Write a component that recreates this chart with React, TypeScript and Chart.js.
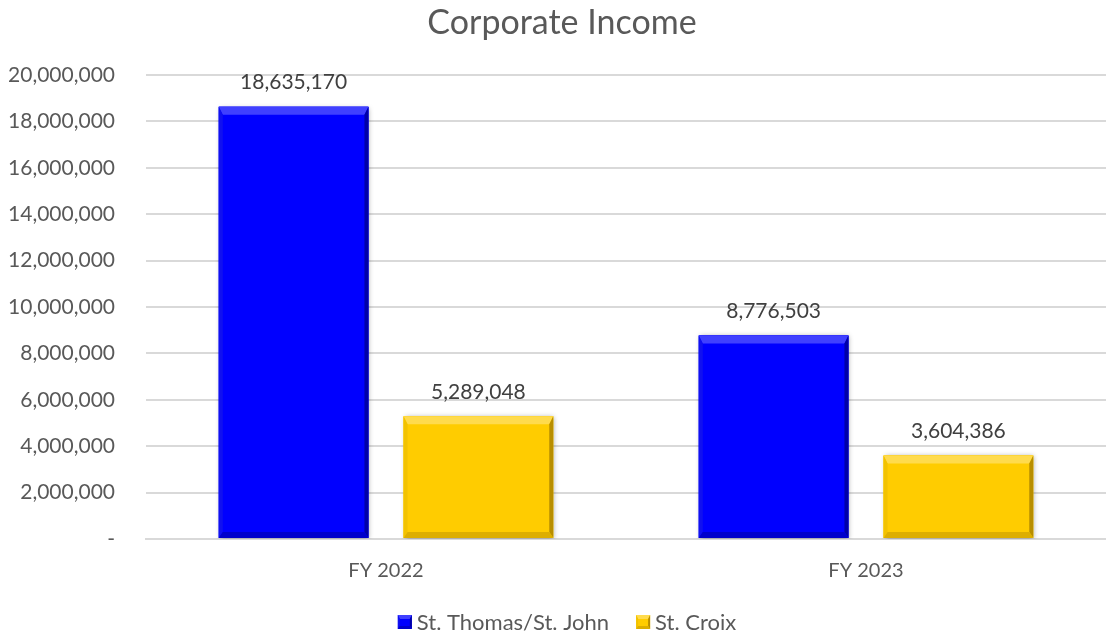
import React, { useEffect, useRef } from "react";
import { Chart, registerables } from "chart.js";

Chart.register(...registerables);

const categories = ["FY 2022", "FY 2023"];
const seriesNames = ["St. Thomas/St. John", "St. Croix"];
const stThomasValues = [18635170, 8776503];
const stCroixValues = [5289048, 3604386];
const yTicks = [0, 2000000, 4000000, 6000000, 8000000, 10000000, 12000000, 14000000, 16000000, 18000000, 20000000];
const chartTitle = "Corporate Income";

const FONT = "Lato, 'Open Sans', sans-serif";
const TEXT = "#595959";

type Pal = { face: string; top: string; left: string; right: string; bottom: string };
const BLUE: Pal = { face: "#0000FF", top: "#4040FF", left: "#1010F0", right: "#0000A8", bottom: "#0000CC" };
const GOLD: Pal = { face: "#FFCC00", top: "#FFDB4D", left: "#F2C200", right: "#B88E00", bottom: "#DDAE00" };
const PALS = [BLUE, GOLD];

function drawBevel(ctx: CanvasRenderingContext2D, l: number, t: number, r: number, b: number, p: Pal, bt: number, bs: number, bb: number) {
  ctx.fillStyle = p.face;
  ctx.fillRect(l, t, r - l, b - t);
  ctx.fillStyle = p.top;
  ctx.beginPath();
  ctx.moveTo(l, t); ctx.lineTo(r, t); ctx.lineTo(r - bs, t + bt); ctx.lineTo(l + bs, t + bt); ctx.closePath(); ctx.fill();
  ctx.fillStyle = p.left;
  ctx.beginPath();
  ctx.moveTo(l, t); ctx.lineTo(l + bs, t + bt); ctx.lineTo(l + bs, b - bb); ctx.lineTo(l, b); ctx.closePath(); ctx.fill();
  ctx.fillStyle = p.right;
  ctx.beginPath();
  ctx.moveTo(r, t); ctx.lineTo(r - bs, t + bt); ctx.lineTo(r - bs, b - bb); ctx.lineTo(r, b); ctx.closePath(); ctx.fill();
  ctx.fillStyle = p.bottom;
  ctx.beginPath();
  ctx.moveTo(l, b); ctx.lineTo(r, b); ctx.lineTo(r - bs, b - bb); ctx.lineTo(l + bs, b - bb); ctx.closePath(); ctx.fill();
}

const bevelPlugin = {
  id: "bevelBars",
  beforeDatasetsDraw(chart: any) {
    const ctx = chart.ctx;
    ctx.save();
    ctx.shadowColor = "rgba(0,0,0,0.35)";
    ctx.shadowBlur = 5;
    ctx.shadowOffsetX = 1;
    ctx.shadowOffsetY = 1;
  },
  afterDatasetsDraw(chart: any) {
    const ctx = chart.ctx;
    ctx.restore();
    chart.data.datasets.forEach((ds: any, i: number) => {
      const meta = chart.getDatasetMeta(i);
      meta.data.forEach((bar: any, j: number) => {
        const w = bar.width;
        const l = bar.x - w / 2, r = bar.x + w / 2;
        const t = bar.y, b = bar.base;
        drawBevel(ctx, l, t, r, b, PALS[i], 8, 4, 6);
        ctx.save();
        ctx.fillStyle = "#404040";
        ctx.font = `21px ${FONT}`;
        ctx.textAlign = "center";
        ctx.textBaseline = "middle";
        ctx.fillText((ds.data[j] as number).toLocaleString("en-US"), bar.x, t - 24);
        ctx.restore();
      });
    });
  },
};

const titleLegendPlugin = {
  id: "titleLegend",
  afterDraw(chart: any) {
    const ctx = chart.ctx;
    ctx.save();
    // title
    ctx.font = `34px ${FONT}`;
    ctx.fillStyle = TEXT;
    ctx.textAlign = "center";
    ctx.textBaseline = "middle";
    ctx.fillText(chartTitle, 562, 23);
    // legend
    ctx.font = `22px ${FONT}`;
    ctx.textAlign = "left";
    const box = 14, gapText = 5, gapItem = 27;
    const names = chart.data.datasets.map((d: any) => d.label as string);
    const widths = names.map((n: string) => ctx.measureText(n).width);
    const total = widths.reduce((a: number, w: number) => a + box + gapText + w, 0) + gapItem * (names.length - 1);
    let x = 567 - total / 2;
    const cy = 622;
    names.forEach((n: string, i: number) => {
      drawBevel(ctx, x, cy - box / 2, x + box, cy + box / 2, PALS[i], 4, 2, 3);
      x += box + gapText;
      ctx.fillStyle = TEXT;
      ctx.fillText(n, x, cy + 1);
      x += widths[i] + gapItem;
    });
    ctx.restore();
  },
};

export default function App() {
  const ref = useRef<HTMLCanvasElement>(null);
  useEffect(() => {
    document.body.style.margin = "0";
    const chart = new Chart(ref.current!, {
      type: "bar",
      data: {
        labels: categories,
        datasets: [
          { label: seriesNames[0], data: stThomasValues, backgroundColor: "rgba(0,0,255,1)", categoryPercentage: 0.77, barPercentage: 0.81 },
          { label: seriesNames[1], data: stCroixValues, backgroundColor: "rgba(255,204,0,1)", categoryPercentage: 0.77, barPercentage: 0.81 },
        ],
      },
      options: {
        animation: false,
        responsive: false,
        layout: { padding: { top: 75, right: 0, bottom: 50, left: 0 } },
        plugins: {
          title: { display: false },
          legend: { display: false },
          tooltip: { enabled: false },
        },
        scales: {
          x: {
            grid: { display: false },
            border: { display: true, color: "#D9D9D9", width: 2 },
            ticks: { color: TEXT, font: { family: FONT, size: 20 }, padding: 12 },
            afterFit: (s: any) => { s.height = 50; },
          },
          y: {
            min: 0,
            max: 20000000,
            afterBuildTicks: (s: any) => { s.ticks = yTicks.map((v) => ({ value: v })); },
            grid: { color: "#D9D9D9", lineWidth: 2, drawTicks: false },
            border: { display: false },
            ticks: {
              color: TEXT,
              font: { family: FONT, size: 21 },
              padding: 31,
              callback: (v: any) => (Number(v) === 0 ? "-" : Number(v).toLocaleString("en-US")),
            },
            afterFit: (s: any) => { s.width = 146; },
          },
        },
      },
      plugins: [bevelPlugin, titleLegendPlugin],
    });
    return () => chart.destroy();
  }, []);
  return <canvas ref={ref} width={1106} height={639} style={{ display: "block" }} />;
}
